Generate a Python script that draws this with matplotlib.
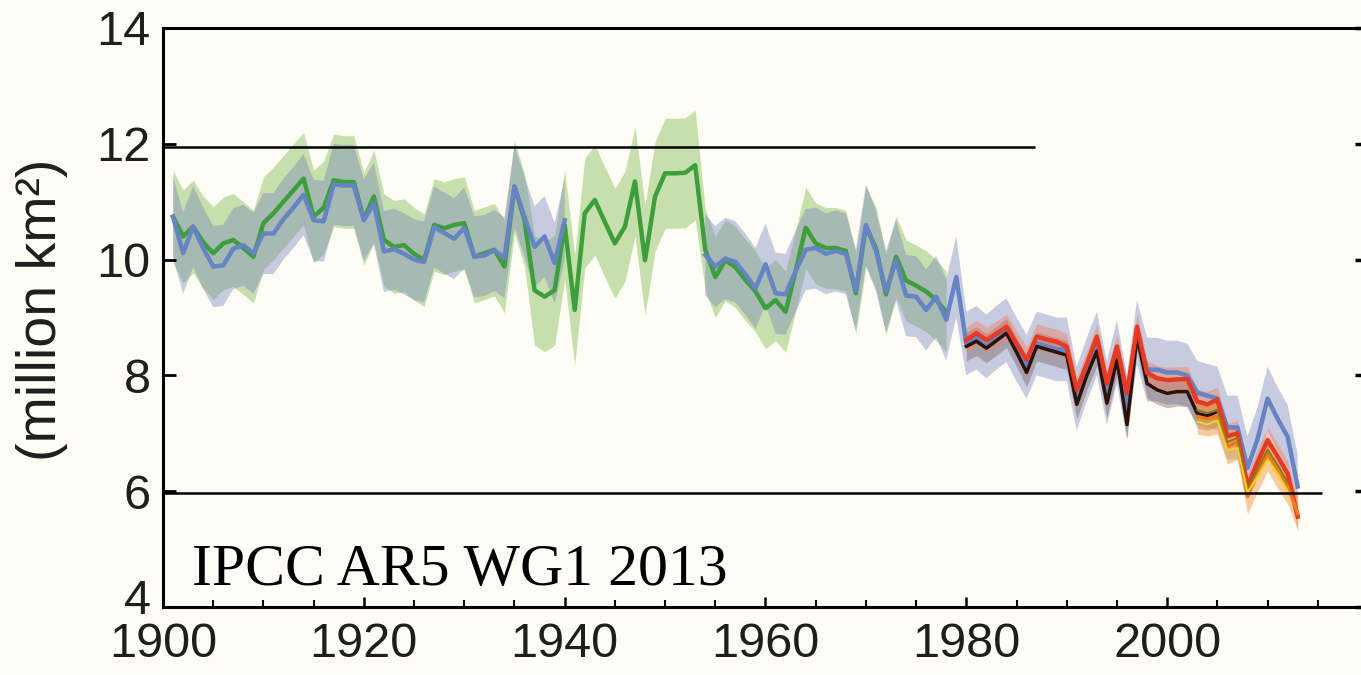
import numpy as np
import matplotlib
matplotlib.use('agg')
import matplotlib.pyplot as plt
import matplotlib.transforms as mtransforms
from matplotlib.ticker import MultipleLocator

# ---- data ----
green_years = list(range(1901, 1979))
green_vals = [10.74, 10.40, 10.57, 10.30, 10.11, 10.28, 10.34, 10.20, 10.05, 10.63,
              10.80, 11.00, 11.20, 11.40, 10.74, 10.90, 11.37, 11.34, 11.34, 10.70,
              11.09, 10.34, 10.22, 10.25, 10.10, 9.99, 10.60, 10.54, 10.60, 10.63,
              10.05, 10.11, 10.17, 9.88, 11.26, 10.68, 9.47, 9.36, 9.47, 10.60,
              9.13, 10.80, 11.03, 10.65, 10.28, 10.57, 11.35, 9.99, 11.09, 11.49,
              11.49, 11.50, 11.63, 10.17, 9.70, 9.99, 9.87, 9.65, 9.45, 9.16,
              9.30, 9.10, 9.80, 10.55, 10.28, 10.20, 10.20, 10.15, 9.42, 10.57,
              10.20, 9.40, 10.05, 9.64, 9.55, 9.45, 9.30, 9.10]
# band half-width per era: 1901-1936, 1937-1953, 1954-1978
green_err_eras = [0.80, 0.95, 0.70]
green_era_len = [36, 17, 25]

nan = np.nan
blue_years = list(range(1901, 2014))
blue_vals = [10.74, 10.11, 10.57, 10.20, 9.88, 9.90, 10.19, 10.25, 10.11, 10.45,
             10.45, 10.70, 10.90, 11.12, 10.68, 10.66, 11.30, 11.28, 11.28, 10.68,
             10.97, 10.14, 10.18, 10.10, 10.00, 9.96, 10.56, 10.46, 10.36, 10.55,
             10.05, 10.07, 10.16, 10.03, 11.26, 10.74, 10.22, 10.40, 9.94, 10.68,
             nan, nan, nan, nan, nan, nan, nan, nan, nan, nan, nan, nan, nan,
             10.08, 9.88, 10.02, 9.96, 9.75, 9.50, 9.92, 9.42, 9.40, 9.80,
             10.17, 10.20, 10.10, 10.15, 10.10, 9.47, 10.60, 10.15, 9.45, 9.99,
             9.38, 9.36, 9.13, 9.36, 8.96, 9.70,
             8.55, 8.65, 8.50, 8.65, 8.78, 8.45, 8.15, 8.55, 8.50, 8.45,
             8.45, 7.60, 8.10, 8.55, 7.70, 8.40, 7.45, 8.75, 8.10, 8.10,
             8.05, 8.05, 8.00, 7.70, 7.65, 7.60, 7.10, 7.10, 6.40, 6.90,
             7.60, 7.25, 6.94, 6.08]
# band half-width per era: 1901-1979, 1980-2013
blue_err_eras = [0.70, 0.55]
blue_era_len = [79, 34]

red_years = list(range(1980, 2014))
red_vals = [8.61, 8.73, 8.61, 8.72, 8.84, 8.55, 8.27, 8.67, 8.62, 8.58,
            8.50, 7.75, 8.20, 8.67, 7.86, 8.50, 7.69, 8.84, 8.04, 7.95,
            7.92, 7.93, 7.94, 7.55, 7.50, 7.58, 6.95, 7.00, 6.08, 6.50,
            6.88, 6.60, 6.30, 5.56]
red_err = 0.22

black_years = list(range(1980, 2006))
black_vals = [8.50, 8.59, 8.47, 8.60, 8.73, 8.40, 8.05, 8.50, 8.45, 8.40,
              8.35, 7.50, 8.00, 8.42, 7.52, 8.27, 7.15, 8.67, 7.86, 7.75,
              7.69, 7.72, 7.72, 7.34, 7.30, 7.38]
black_err = 0.25

orange_years = list(range(2003, 2014))
orange_vals = [7.29, 7.25, 7.29, 6.77, 6.85, 5.91, 6.30, 6.65, 6.35, 6.08, 5.62]
orange_err = 0.30

olive_years = list(range(2003, 2013))
olive_vals = [7.40, 7.35, 7.40, 6.85, 6.92, 6.02, 6.38, 6.72, 6.45, 6.15]

yellow_years = list(range(2003, 2013))
yellow_vals = [7.20, 7.15, 7.22, 6.70, 6.75, 5.98, 6.25, 6.55, 6.30, 6.00]

ref_lines = [11.94, 5.97]
ref_line_ends = [1986.8, 2015.4]

yticks = [4, 6, 8, 10, 12, 14]
xticks = [1900, 1920, 1940, 1960, 1980, 2000]

bg = '#fdfdf6'

fig = plt.figure(figsize=(13.61, 6.75), dpi=100, facecolor=bg)
ax = fig.add_axes([163 / 1361, 68 / 675, 1 - 163 / 1361, 579 / 675])
ax.set_facecolor(bg)

gx = np.array(green_years)
gy = np.array(green_vals)
gerr = np.repeat(green_err_eras, green_era_len)
bx = np.array(blue_years)
by = np.array(blue_vals)
berr = np.repeat(blue_err_eras, blue_era_len)

# uncertainty bands
ax.fill_between(gx, gy - gerr, gy + gerr, color='#93c363', alpha=0.5, lw=0)
ax.fill_between(bx, by - berr, by + berr, color='#7880c0', alpha=0.4, lw=0)

rx, ry = np.array(red_years), np.array(red_vals)
kx, ky = np.array(black_years), np.array(black_vals)
ox, oy = np.array(orange_years), np.array(orange_vals)
ax.fill_between(kx, ky - black_err, ky + black_err, color='#6b4c44', alpha=0.35, lw=0)
ax.fill_between(rx, ry - red_err, ry + red_err, color='#f08060', alpha=0.45, lw=0)
ax.fill_between(ox, oy - orange_err, oy + orange_err, color='#f59a40', alpha=0.5, lw=0)

# lines
ax.plot(gx, gy, color='#3c9f3c', lw=3.2)
ax.plot(bx, by, color='#6683c3', lw=3.2)
ax.plot(kx, ky, color='#2b1208', lw=2.5)
ax.plot(rx, ry, color='#e63a25', lw=3.2)
ax.plot(ox, oy, color='#f07a1a', lw=2.5)
ax.plot(olive_years, olive_vals, color='#8a7a20', lw=1.5)
ax.plot(yellow_years, yellow_vals, color='#f5d020', lw=1.5)

# black reference lines
for yv, xe in zip(ref_lines, ref_line_ends):
    ax.hlines(yv, 1900, xe, color='black', lw=1.8, zorder=5)

ax.set_xlim(1900, 1900 + (1361 - 162) / 10.05)
ax.set_ylim(4, 14)
ax.set_xticks(xticks)
ax.set_yticks(yticks)
ax.xaxis.set_minor_locator(MultipleLocator(5))

for s in ['left', 'bottom', 'top']:
    ax.spines[s].set_linewidth(2.2)
ax.spines['right'].set_visible(False)

ax.tick_params(axis='y', which='major', direction='in', length=9, width=2, pad=9)
ax.tick_params(axis='x', which='major', direction='in', length=7, width=1.8, pad=11)
ax.tick_params(axis='x', which='minor', direction='in', length=5, width=1.5)
for lab in ax.get_xticklabels() + ax.get_yticklabels():
    lab.set_fontfamily('Liberation Sans')
    lab.set_fontsize(35)
    lab.set_color('#1e1e1e')

# the lowest y label sits a little higher, clear of the year labels
lift = mtransforms.ScaledTranslation(0, 10 / 100, fig.dpi_scale_trans)
low = ax.get_yticklabels()[0]
low.set_transform(low.get_transform() + lift)

sec = ax.secondary_yaxis('right')
sec.set_yticks(yticks)
sec.spines['right'].set_visible(False)
sec.tick_params(direction='in', length=4, width=2.5, labelright=False)

ax.text(0.024, 0.038, 'IPCC AR5 WG1 2013', transform=ax.transAxes,
        fontsize=43, family='Liberation Serif', va='baseline', ha='left')

fig.text(42 / 1361, 1 - 310 / 675, '(million km²)', rotation=90,
         va='center', ha='center', fontsize=40, family='Liberation Sans', color='#1e1e1e')

fig.savefig('out.png', dpi=100, facecolor=bg)
